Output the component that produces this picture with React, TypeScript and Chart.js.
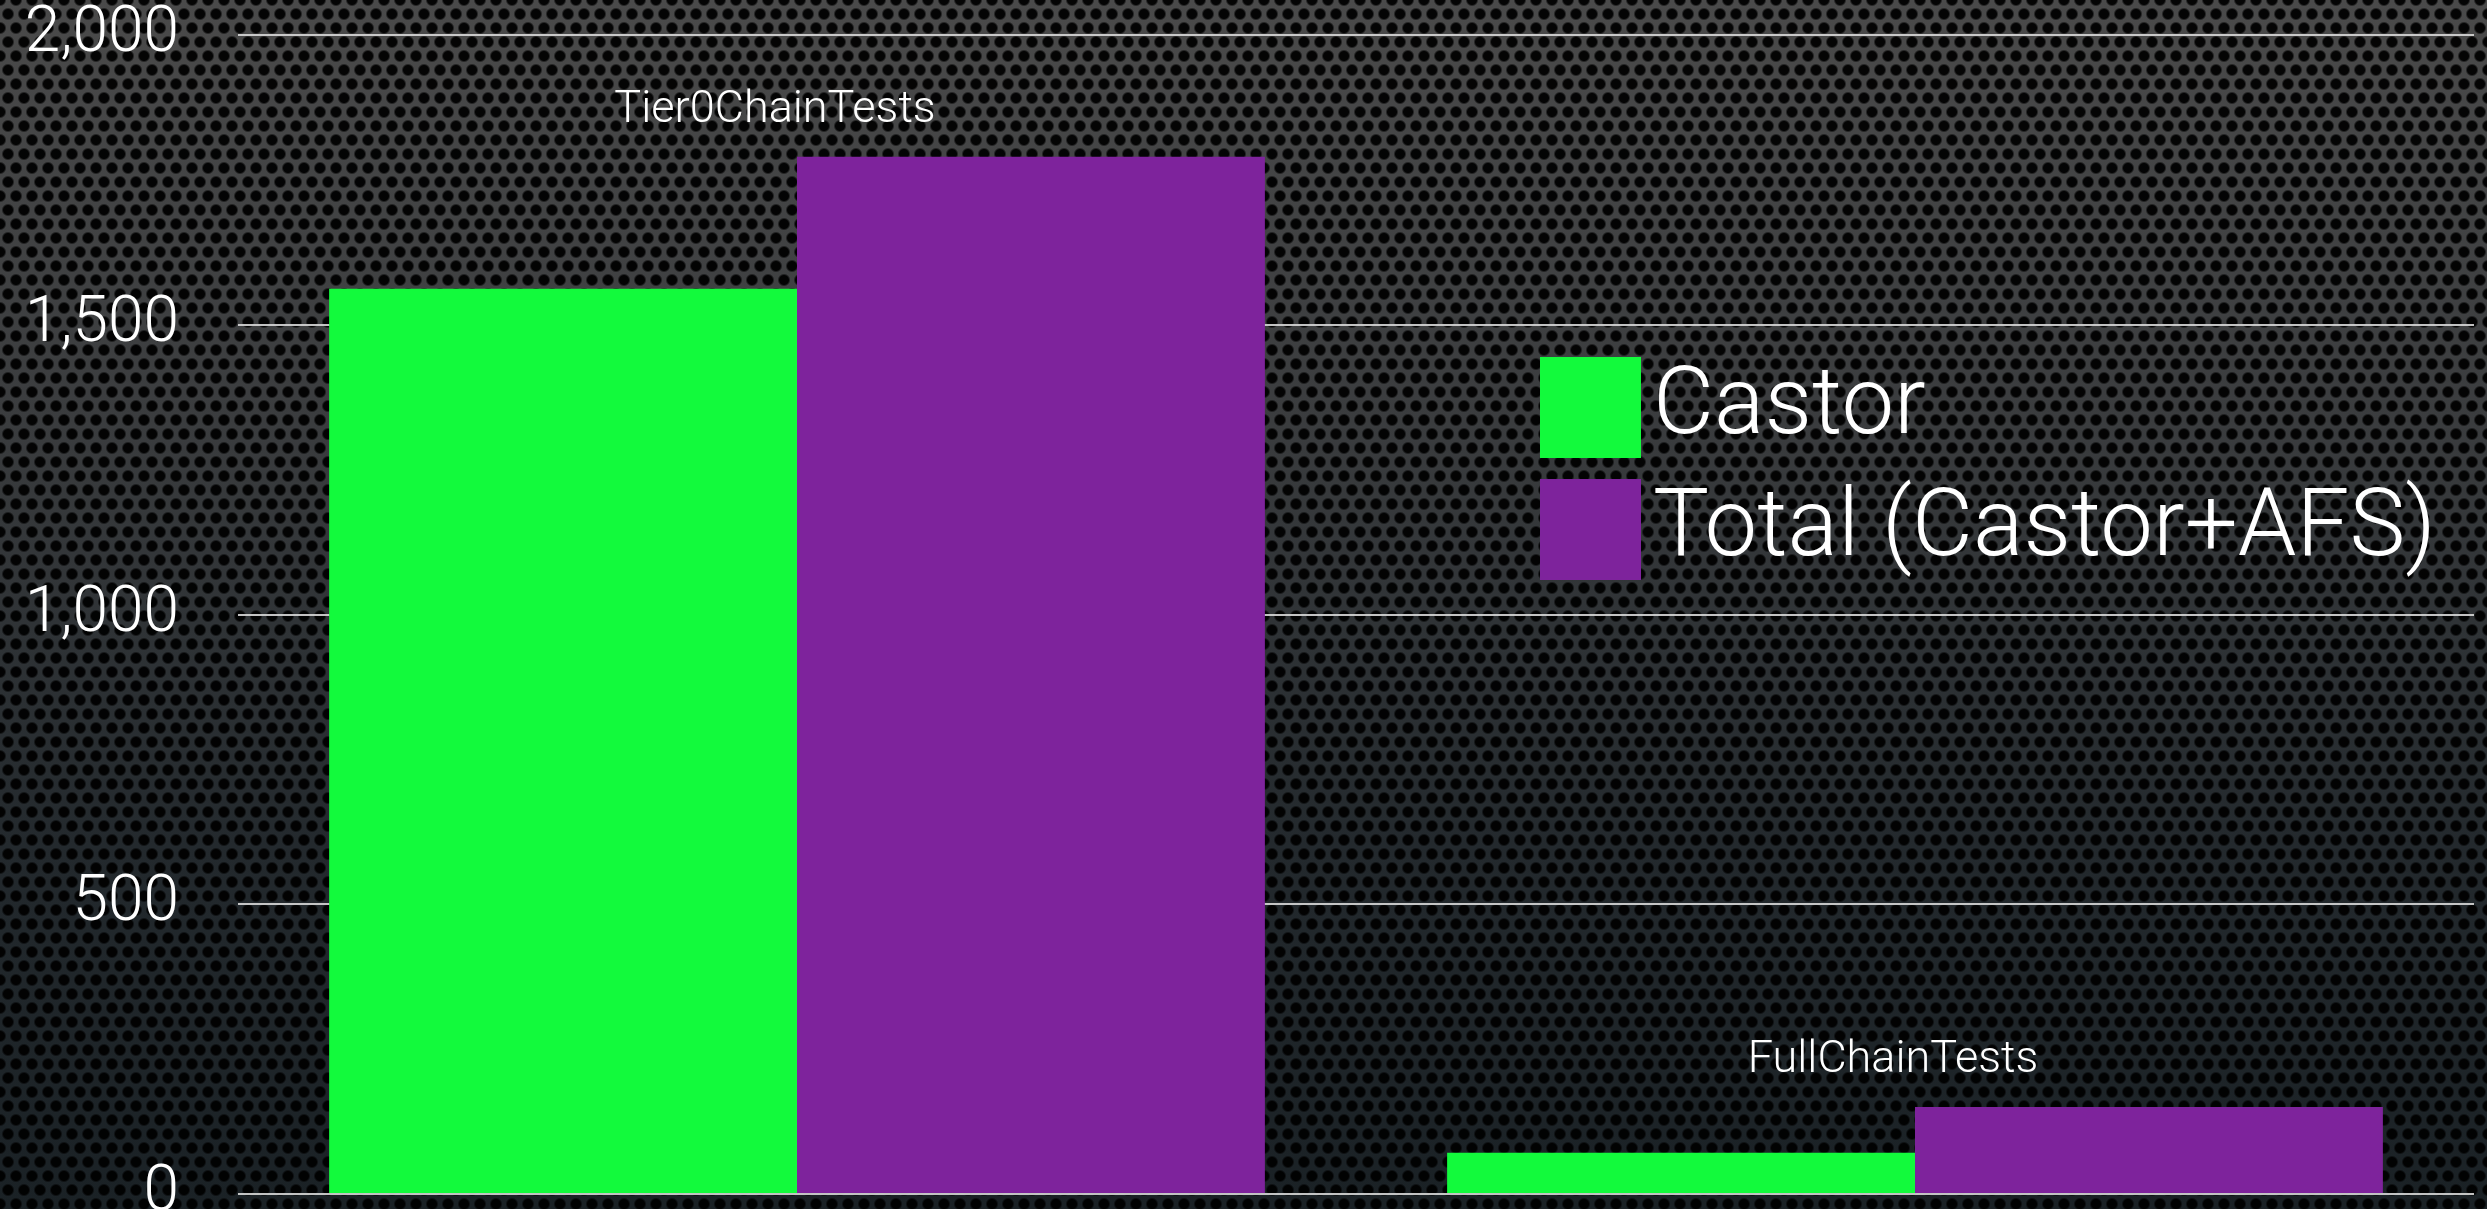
import React, { useEffect, useRef } from "react";
import { Chart, registerables } from "chart.js";

Chart.register(...registerables);

const categories = ["Tier0ChainTests", "FullChainTests"];
const castorValues = [1562, 71];
const totalValues = [1790, 150];
const seriesLabels = ["Castor", "Total (Castor+AFS)"];
const yTickValues = [0, 500, 1000, 1500, 2000];

const GREEN = "#12FA3C";
const PURPLE = "#7E239C";
const FONT = "Roboto, 'Liberation Sans', sans-serif";

const groupLabelPlugin = {
  id: "groupLabels",
  afterDatasetsDraw(chart: any) {
    const { ctx, scales } = chart;
    const xs = scales.x;
    const ys = scales.y;
    ctx.save();
    ctx.fillStyle = "#ffffff";
    ctx.font = `300 45px ${FONT}`;
    ctx.textAlign = "center";
    ctx.textBaseline = "middle";
    (chart.data.labels as string[]).forEach((lab: string, i: number) => {
      const maxV = Math.max(...chart.data.datasets.map((d: any) => d.data[i]));
      ctx.fillText(lab, xs.getPixelForValue(i) - 22, ys.getPixelForValue(maxV) - 46);
    });
    ctx.restore();
  },
};

const legendPlugin = {
  id: "boxLegend",
  afterDraw(chart: any) {
    const { ctx, chartArea } = chart;
    const left = chartArea.left + 1302;
    const top = chartArea.top + 322;
    const box = 101;
    const rowGap = 122;
    ctx.save();
    ctx.font = `300 94px ${FONT}`;
    ctx.textAlign = "left";
    ctx.textBaseline = "middle";
    chart.data.datasets.forEach((ds: any, i: number) => {
      const y = top + i * rowGap;
      ctx.fillStyle = ds.backgroundColor;
      ctx.fillRect(left, y, box, box);
      ctx.fillStyle = "#ffffff";
      ctx.fillText(ds.label, left + box + 12, y + box / 2 + 2);
    });
    ctx.restore();
  },
};

export default function App() {
  const canvasRef = useRef<HTMLCanvasElement | null>(null);

  useEffect(() => {
    if (!canvasRef.current) return;
    const chart = new Chart(canvasRef.current, {
      type: "bar",
      data: {
        labels: categories,
        datasets: [
          {
            label: seriesLabels[0],
            data: castorValues,
            backgroundColor: GREEN,
            borderWidth: 0,
            categoryPercentage: 0.837,
            barPercentage: 1.0,
          },
          {
            label: seriesLabels[1],
            data: totalValues,
            backgroundColor: PURPLE,
            borderWidth: 0,
            categoryPercentage: 0.837,
            barPercentage: 1.0,
          },
        ],
      },
      options: {
        responsive: false,
        animation: false,
        maintainAspectRatio: false,
        layout: { padding: { top: 35, bottom: 15, right: 13, left: 0 } },
        plugins: {
          legend: { display: false },
          tooltip: { enabled: false },
        },
        scales: {
          x: {
            display: false,
            grid: { display: false },
          },
          y: {
            min: 0,
            max: 2000,
            afterFit(scale: any) {
              scale.width = 238;
              scale.paddingTop = 0;
              scale.paddingBottom = 0;
            },
            afterBuildTicks(scale: any) {
              scale.ticks = yTickValues.map((v) => ({ value: v }));
            },
            border: { display: false },
            grid: {
              color: "rgba(215,215,215,0.9)",
              lineWidth: 2,
              drawTicks: false,
            },
            ticks: {
              padding: 59,
              color: "#ffffff",
              font: { family: FONT, size: 64, weight: "300" as any },
              callback: (v: any) => Number(v).toLocaleString("en-US"),
            },
          },
        },
      },
      plugins: [groupLabelPlugin, legendPlugin],
    });
    return () => chart.destroy();
  }, []);

  return (
    <div
      style={{
        position: "fixed",
        left: 0,
        top: 0,
        width: 2487,
        height: 1209,
        backgroundColor: "#1e2226",
        backgroundImage:
          "radial-gradient(circle, rgba(0,0,0,0.95) 4.5px, rgba(0,0,0,0) 6.5px), radial-gradient(circle, rgba(0,0,0,0.95) 4.5px, rgba(0,0,0,0) 6.5px), linear-gradient(180deg, #4a4a4a 0%, #3a3c3e 35%, #23292d 70%, #1a2125 100%)",
        backgroundSize: "16px 28px, 16px 28px, 100% 100%",
        backgroundPosition: "0 0, 8px 14px, 0 0",
      }}
    >
      <canvas ref={canvasRef} width={2487} height={1209} style={{ display: "block" }} />
    </div>
  );
}
